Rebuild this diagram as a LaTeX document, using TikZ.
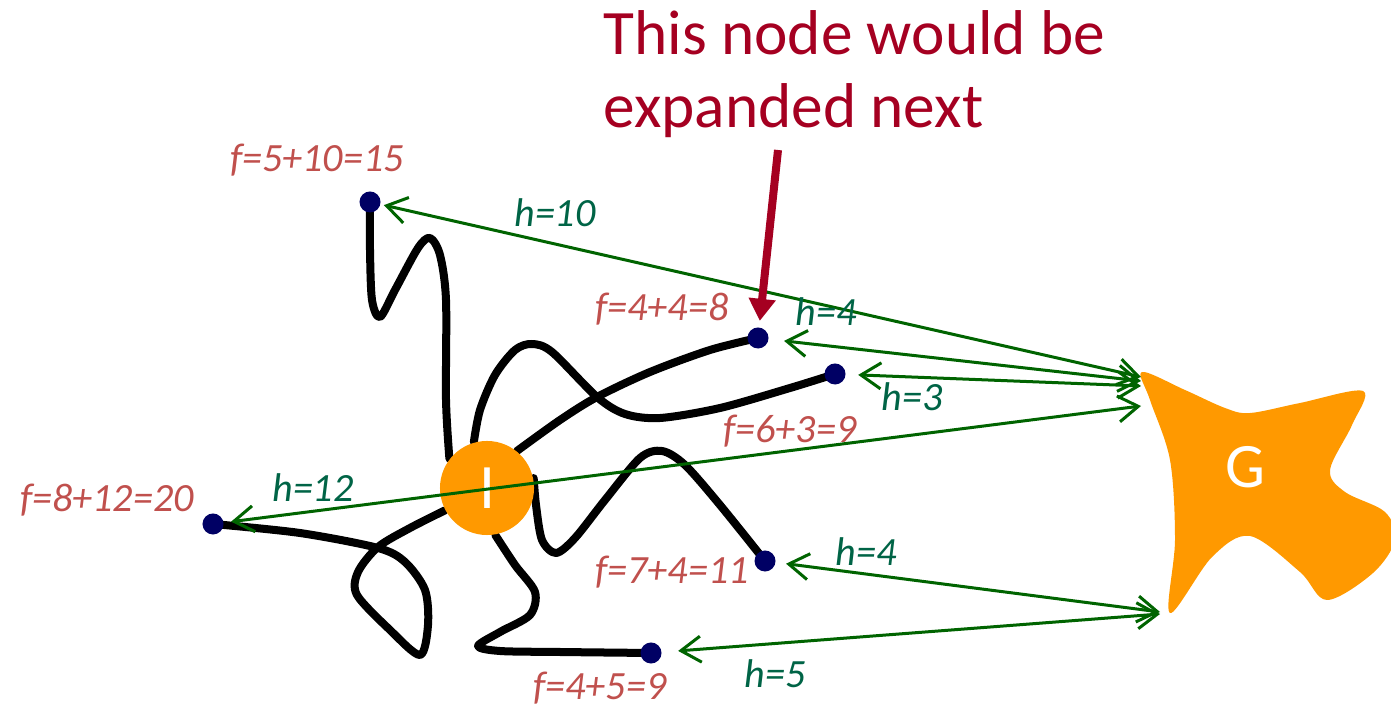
\documentclass[tikz,border=0pt]{standalone}
\usepackage{fontspec}
\setmainfont{Carlito}
\usetikzlibrary{arrows.meta}
\pgfdeclarelayer{bg}
\pgfsetlayers{bg,main}
\definecolor{gorange}{RGB}{255,153,0}
\definecolor{dotblue}{RGB}{0,0,100}
\definecolor{flab}{RGB}{192,80,77}
\definecolor{hlab}{RGB}{0,100,70}
\definecolor{hline}{RGB}{0,100,0}
\definecolor{note}{RGB}{165,0,33}
\tikzset{
  dot/.style={circle, fill=dotblue, minimum size=0.21cm, inner sep=0pt},
  flabel/.style={text=flab, font=\fontsize{11.4}{13}\selectfont\itshape, anchor=base, inner sep=0pt},
  hlabel/.style={text=hlab, font=\fontsize{11.4}{13}\selectfont\itshape, anchor=base, inner sep=0pt},
  wire/.style={line width=0.08cm, black, line join=round, line cap=round},
  harrow/.style={hline, line width=0.03cm, {Straight Barb[length=0.2cm,width=0.26cm]}-{Straight Barb[length=0.2cm,width=0.26cm]}},
  notearrow/.style={note, line width=0.08cm, -{Triangle[length=0.22cm,width=0.26cm]}},
  notetext/.style={text=note, font=\fontsize{18}{20}\selectfont, anchor=base west, inner sep=0pt},
  bigletter/.style={text=white, font=\fontsize{18}{20}\selectfont},
}
\begin{document}
\begin{tikzpicture}[x=0.01cm,y=-0.01cm]
\useasboundingbox (0,0) rectangle (1391,707);
\clip (0,0) rectangle (1391,707);

% nodes
\node[circle, fill=gorange, minimum size=0.94cm, inner sep=0pt, bigletter] (I) at (487,488) {I};
\node[dot] (A) at (370,202) {};
\node[dot] (B) at (758,338) {};
\node[dot] (C) at (835,374) {};
\node[dot] (D) at (213,524) {};
\node[dot] (E) at (765,561) {};
\node[dot] (F) at (651,653) {};

% black paths (behind nodes)
\begin{pgfonlayer}{bg}
\draw[wire] plot[smooth, tension=0.5] coordinates {(I.142) (446,400) (446,300) (440,255) (430,238) (418,248) (395,290) (380,317) (372,300) (370,250) (A)};
\draw[wire] plot[smooth, tension=0.5] coordinates {(I.106) (480,410) (495,375) (515,350) (532,344) (552,352) (597,397) (625,414) (660,418) (720,408) (790,388) (C)};
\draw[wire] plot[smooth, tension=0.5] coordinates {(I.51) (560,420) (597,397) (650,372) (710,350) (B)};
\draw[wire] plot[smooth, tension=0.5] coordinates {(I.12) (536,505) (542,540) (556,553) (575,538) (605,500) (640,458) (662,451) (685,465) (720,505) (E)};
\draw[wire] plot[smooth, tension=0.5] coordinates {(I.-80) (515,565) (535,592) (530,615) (500,632) (478,646) (500,651) (560,652) (F)};
\draw[wire] plot[smooth, tension=0.5] coordinates {(I.208) (410,528) (378,547) (358,572) (357,595) (390,630) (420,655) (428,625) (425,590) (405,562) (378,548) (300,533) (D)};
\end{pgfonlayer}

% goal star
\fill[gorange] plot[smooth cycle, tension=0.55] coordinates {(1142,372) (1185,390) (1225,408) (1250,413) (1300,403) (1363,391) (1352,425) (1330,470) (1345,492) (1385,512) (1395,540) (1373,573) (1327,600) (1300,572) (1250,536) (1212,557) (1170,613) (1175,540) (1170,460) (1150,400)};
\node[bigletter] (G) at (1245,467) {G};

\coordinate (gA) at (1141,377);
\coordinate (gB) at (1141,381);
\coordinate (gC) at (1141,386);
\coordinate (gD) at (1141,406);
\coordinate (gE) at (1160,612);
\coordinate (gF) at (1160,614);

% heuristic arrows
\draw[harrow, shorten <=0.03cm] (A) -- (gA);
\draw[harrow, shorten <=0.15cm] (B) -- (gB);
\draw[harrow, shorten <=0.12cm] (C) -- (gC);
\draw[harrow, shorten <=0.07cm] (D) -- (gD);
\draw[harrow, shorten <=0.10cm] (E) -- (gE);
\draw[harrow, shorten <=0.16cm] (F) -- (gF);

% labels
\node[flabel] (fA) at (317,172) {f=5+10=15};
\node[hlabel] (hA) at (555,227) {h=10};
\node[flabel] (fB) at (662,321) {f=4+4=8};
\node[hlabel] (hB) at (826,326) {h=4};
\node[hlabel] (hC) at (912,411) {h=3};
\node[flabel] (fC) at (790,443) {f=6+3=9};
\node[hlabel] (hD) at (313,502) {h=12};
\node[flabel] (fD) at (107,512) {f=8+12=20};
\node[flabel] (fE) at (672,584) {f=7+4=11};
\node[hlabel] (hE) at (866,566) {h=4};
\node[flabel] (fF) at (600,699) {f=4+5=9};
\node[hlabel] (hF) at (775,688) {h=5};

% note
\node[notetext] (t1) at (603,55) {This node would be};
\node[notetext] (t2) at (603,128) {expanded next};
\coordinate (ns) at (778,150);
\draw[notearrow, shorten >=0.06cm] (ns) -- (B);
\end{tikzpicture}
\end{document}
